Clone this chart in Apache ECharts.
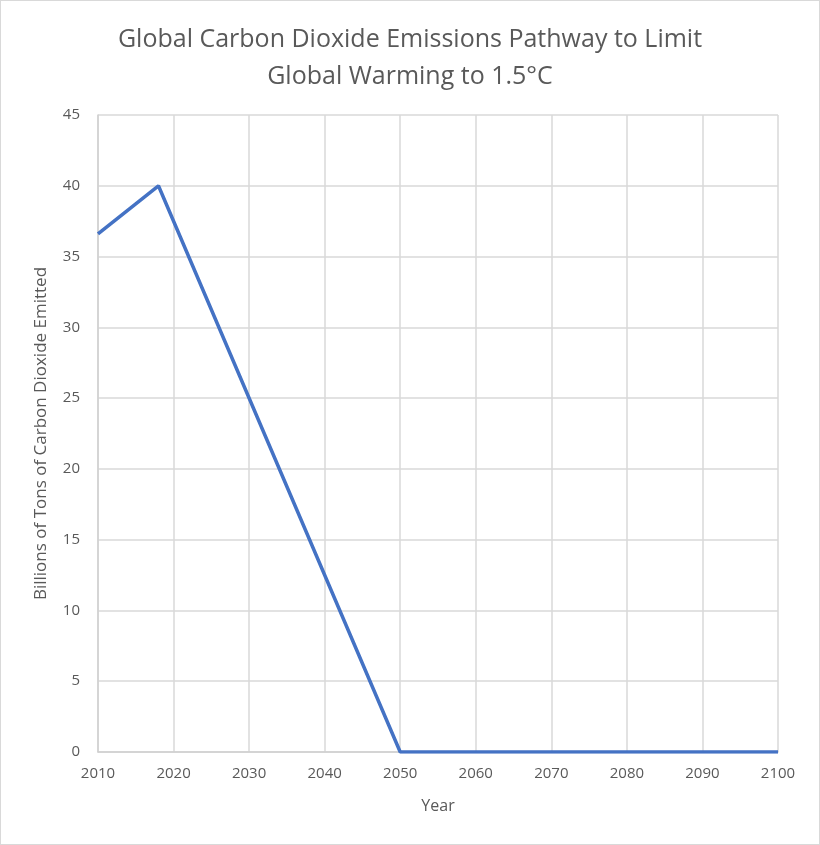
<!DOCTYPE html>
<html>
<head>
<meta charset="utf-8">
<script src="https://cdn.jsdelivr.net/npm/echarts@6/dist/echarts.min.js"></script>
<style>
  html, body { margin: 0; padding: 0; background: #fff; }
  #chart { width: 820px; height: 845px; box-sizing: border-box; border: 1px solid #d9d9d9; }
</style>
</head>
<body>
<div id="chart"></div>
<script>
const years = [2010, 2018, 2050, 2100];
const emissions = [36.6, 40, 0, 0];
const yTicks = [0, 5, 10, 15, 20, 25, 30, 35, 40, 45];
const xTicks = [2010, 2020, 2030, 2040, 2050, 2060, 2070, 2080, 2090, 2100];

const font = 'Open Sans, Noto Sans, sans-serif';
const textColor = '#595959';

const chart = echarts.init(document.getElementById('chart'));
chart.setOption({
  animation: false,
  title: {
    text: 'Global Carbon Dioxide Emissions Pathway to Limit\nGlobal Warming to 1.5°C',
    left: 'center',
    top: 15,
    textStyle: { fontFamily: font, fontSize: 25, fontWeight: 'normal', color: textColor, lineHeight: 37 }
  },
  grid: { left: 97, right: 41, top: 114, bottom: 92 },
  xAxis: {
    type: 'value',
    min: xTicks[0],
    max: xTicks[xTicks.length - 1],
    interval: 10,
    name: 'Year',
    nameLocation: 'middle',
    nameGap: 46,
    nameTextStyle: { fontFamily: font, fontSize: 16, color: textColor },
    axisLine: { show: true, lineStyle: { color: '#d0d0d0', width: 1.5 } },
    axisTick: { show: false },
    axisLabel: { fontFamily: font, fontSize: 15, color: textColor, margin: 14, formatter: (v) => String(v) },
    splitLine: { show: true, lineStyle: { color: '#d9d9d9', width: 1.5 } }
  },
  yAxis: {
    type: 'value',
    min: yTicks[0],
    max: yTicks[yTicks.length - 1],
    interval: 5,
    name: 'Billions of Tons of Carbon Dioxide Emitted',
    nameLocation: 'middle',
    nameGap: 48,
    nameTextStyle: { fontFamily: font, fontSize: 17, color: textColor },
    axisLine: { show: true, lineStyle: { color: '#d0d0d0', width: 1.5 } },
    axisTick: { show: false },
    axisLabel: { fontFamily: font, fontSize: 15, color: textColor, margin: 18 },
    splitLine: { show: true, lineStyle: { color: '#d9d9d9', width: 1.5 } }
  },
  series: [{
    type: 'line',
    data: years.map((y, i) => [y, emissions[i]]),
    symbol: 'none',
    lineStyle: { color: '#4472c4', width: 3.5 },
    itemStyle: { color: '#4472c4' }
  }]
});
</script>
</body>
</html>
